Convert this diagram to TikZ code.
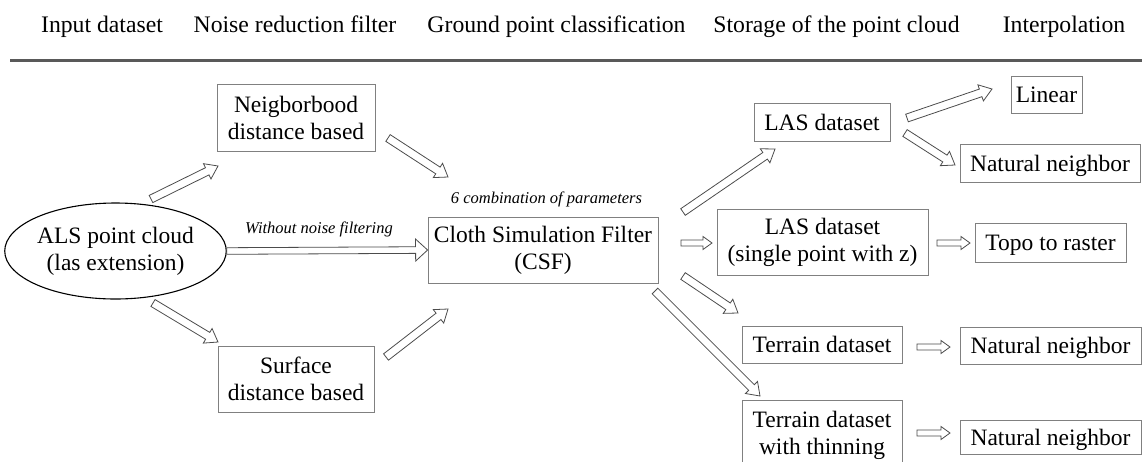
\documentclass[tikz,border=0pt]{standalone}
\usepackage{fontspec}
\setmainfont{Liberation Serif}
\usetikzlibrary{calc,shapes.geometric}
\newcommand\bfnt{\fontsize{23.5}{27}\selectfont}
\newcommand\hfnt{\fontsize{23.7}{26}\selectfont}
\newcommand\ifnt{\fontsize{16.5}{18}\selectfont\itshape}
\newcommand\harr[5]{%
  \coordinate (hb) at ($(#2)!#5!(#1)$);
  \draw[arrowline] ($(#1)!#3!90:(#2)$) -- ($(hb)!#3!90:(#2)$) -- ($(hb)!#4!90:(#2)$) -- (#2)
    -- ($(hb)!#4!-90:(#2)$) -- ($(hb)!#3!-90:(#2)$) -- ($(#1)!#3!-90:(#2)$) -- cycle;}
\begin{document}
\begin{tikzpicture}[x=1pt,y=-1pt,
  box/.style={draw=black!50,line width=0.8pt,inner sep=0pt,align=center,font=\bfnt},
  one/.style={box,text height=16pt,text depth=0pt},
  hdr/.style={anchor=base,font=\hfnt,inner sep=0pt},
  lbl/.style={anchor=base,font=\ifnt,inner sep=0pt},
  arrowline/.style={draw=black!70,line width=0.8pt,fill=white,line join=miter}]
\fill[white] (0,0) rectangle (1142,461);
\useasboundingbox (0,0) rectangle (1142,461);
% header
\node[hdr] (h1) at (102,32) {Input dataset};
\node[hdr] (h2) at (295,32) {Noise reduction filter};
\node[hdr] (h3) at (556.5,32) {Ground point classification};
\node[hdr] (h4) at (836.5,32) {Storage of the point cloud};
\node[hdr] (h5) at (1064,32) {Interpolation};
\coordinate (rl) at (10,60);
\coordinate (rr) at (1142,60);
\draw[line width=3pt,black!65] (rl) -- (rr);
% nodes
\node[draw,ellipse,line width=1.1pt,minimum width=199pt,minimum height=96pt,inner sep=0pt,align=center,font=\bfnt] (als) at (115.5,251) {ALS point cloud\\(las extension)};
\node[box,minimum width=158pt,minimum height=67pt] (nb) at (296,117.5) {Neigborbood\\distance based};
\node[box,minimum width=156pt,minimum height=66pt] (sd) at (296,379) {Surface\\distance based};
\node[box,minimum width=230pt,minimum height=66pt] (csf) at (543,250) {Cloth Simulation Filter\\(CSF)};
\node[one,minimum width=136pt,minimum height=38pt] (las) at (822,122) {LAS dataset};
\node[box,minimum width=211pt,minimum height=66pt] (lasz) at (822.5,242) {LAS dataset\\(single point with z)};
\node[one,minimum width=160pt,minimum height=37pt] (ter) at (822,344.5) {Terrain dataset};
\node[box,minimum width=160pt,minimum height=70pt] (tert) at (822,435) {Terrain dataset\\with thinning};
\node[one,minimum width=71pt,minimum height=37pt] (lin) at (1046.5,94.5) {Linear};
\node[one,minimum width=180pt,minimum height=38pt] (nn1) at (1050,163) {Natural neighbor};
\node[one,minimum width=151pt,minimum height=39pt] (topo) at (1050.5,242.5) {Topo to raster};
\node[one,minimum width=181pt,minimum height=37pt] (nn2) at (1050.5,345.5) {Natural neighbor};
\node[one,minimum width=181pt,minimum height=34pt] (nn3) at (1050.5,437.5) {Natural neighbor};
% labels
\node[lbl] (wnf) at (319,233) {Without noise filtering};
\node[lbl] (comb) at (546.5,203) {6 combination of parameters};
% arrow ends
\coordinate (a1s) at (151,199);  \coordinate (a1e) at (218,166);
\coordinate (a3s) at (153,303);  \coordinate (a3e) at (218,342);
\coordinate (a4s) at (388,138);  \coordinate (a4e) at (448,177);
\coordinate (a5s) at (386,357);  \coordinate (a5e) at (448,309);
\coordinate (a6s) at (683,212);  \coordinate (a6e) at (775,149);
\coordinate (a7s) at (681,243);  \coordinate (a7e) at (712,243);
\coordinate (a8s) at (683,276);  \coordinate (a8e) at (738,313);
\coordinate (a9s) at (655,291);  \coordinate (a9e) at (760,396);
\coordinate (a10s) at (907,118); \coordinate (a10e) at (992,89);
\coordinate (a11s) at (905,133); \coordinate (a11e) at (955,165);
\coordinate (a12s) at (937,243); \coordinate (a12e) at (970,243);
\coordinate (a13s) at (917,347); \coordinate (a13e) at (950,347);
\coordinate (a14s) at (917,433); \coordinate (a14e) at (950,433);
% arrows
\harr{a1s}{a1e}{4pt}{8.5pt}{12pt}
\harr{als.east}{csf.west}{3.3pt}{11pt}{12pt}
\harr{a3s}{a3e}{4pt}{8.5pt}{12pt}
\harr{a4s}{a4e}{4pt}{8.5pt}{12pt}
\harr{a5s}{a5e}{4pt}{8.5pt}{12pt}
\harr{a6s}{a6e}{4pt}{8.5pt}{12pt}
\harr{a7s}{a7e}{3pt}{6.5pt}{9pt}
\harr{a8s}{a8e}{4pt}{8.5pt}{12pt}
\harr{a9s}{a9e}{4pt}{8.5pt}{12pt}
\harr{a10s}{a10e}{4pt}{8.5pt}{12pt}
\harr{a11s}{a11e}{4pt}{8.5pt}{12pt}
\harr{a12s}{a12e}{3pt}{6.5pt}{9pt}
\harr{a13s}{a13e}{3pt}{6.5pt}{9pt}
\harr{a14s}{a14e}{3pt}{6.5pt}{9pt}
\end{tikzpicture}
\end{document}
